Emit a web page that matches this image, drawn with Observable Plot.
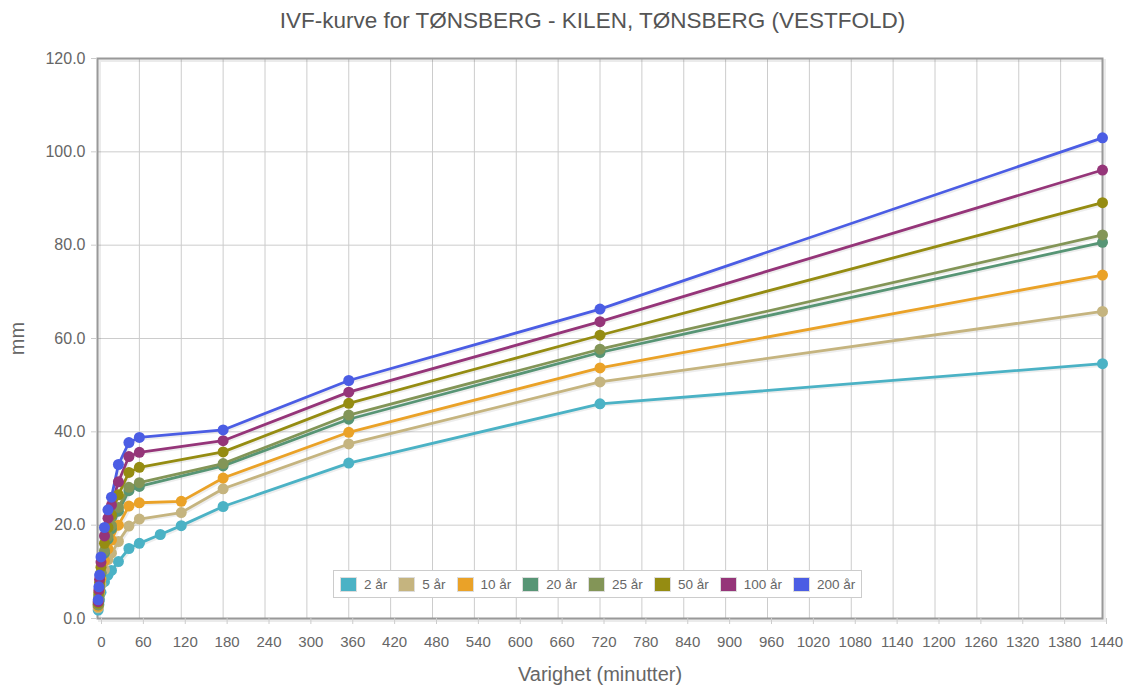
<!DOCTYPE html>
<html><head><meta charset="utf-8">
<script src="https://cdn.jsdelivr.net/npm/d3@7"></script>
<script src="https://cdn.jsdelivr.net/npm/@observablehq/plot@0.6"></script>
<style>
body{margin:0;background:#fff;font-family:"Liberation Sans",Arial,sans-serif;}
#wrap{position:relative;width:1142px;height:686px;overflow:hidden;}
#title{position:absolute;left:90px;top:8px;width:1005px;text-align:center;font-size:22.5px;color:#555;}
#chart{position:absolute;left:0;top:40px;}
#legend{position:absolute;left:333px;top:570px;height:28px;background:#fff;border:1px solid #ccc;display:flex;align-items:center;padding:0 6px 0 7px;box-sizing:border-box;font-size:13.5px;color:#666;}
#legend .it{display:flex;align-items:center;margin-right:12px;}
#legend .it:last-child{margin-right:0;}
#legend .sw{width:15px;height:13px;margin-right:8px;box-shadow:0 0 0 1px #ddd;}
</style></head><body>
<div id="wrap">
<div id="title">IVF-kurve for TØNSBERG - KILEN, TØNSBERG (VESTFOLD)</div>
<div id="chart"></div>
<div id="legend"></div>
</div>
<script>
const durations = [1, 2, 3, 5, 10, 15, 20, 30, 45, 60, 90, 120, 180, 360, 720, 1440];
const series = ["2 år", "5 år", "10 år", "20 år", "25 år", "50 år", "100 år", "200 år"];
const colors = ["#4bb2c5", "#c5b47f", "#EAA228", "#579575", "#839557", "#958c12", "#953579", "#4b5de4"];
const v2   = [1.8, 3.0, 4.0, 5.6, 7.9, 9.3, 10.3, 12.2, 15.0, 16.1, 18.0, 19.9, 24.0, 33.3, 46.0, 54.6];
const v5   = [2.3, 3.8, 5.2, 7.3, 10.5, 12.6, 14.0, 16.5, 19.8, 21.3, null, 22.7, 27.8, 37.4, 50.7, 65.8];
const v10  = [2.6, 4.4, 6.0, 8.5, 12.4, 14.9, 16.8, 20.0, 24.1, 24.8, null, 25.1, 30.1, 39.9, 53.7, 73.6];
const v20  = [2.9, 4.9, 6.7, 9.6, 14.0, 17.0, 19.2, 23.0, 27.4, 28.3, null, null, 32.7, 42.7, 57.0, 80.6];
const v25  = [3.0, 5.1, 6.9, 9.9, 14.5, 17.6, 19.9, 23.8, 28.1, 29.1, null, null, 33.2, 43.6, 57.7, 82.2];
const v50  = [3.3, 5.6, 7.7, 11.0, 16.1, 19.5, 22.2, 26.5, 31.3, 32.4, null, null, 35.7, 46.1, 60.7, 89.1];
const v100 = [3.6, 6.1, 8.4, 12.1, 17.7, 21.5, 24.3, 29.3, 34.7, 35.6, null, null, 38.1, 48.5, 63.6, 96.1];
const v200 = [4.0, 6.8, 9.3, 13.2, 19.5, 23.3, 26.0, 33.0, 37.7, 38.8, null, null, 40.4, 51.0, 66.3, 103.0];
const xTicks = d3.range(0, 1441, 60);
const yTicks = [0, 20, 40, 60, 80, 100, 120];

const values = [v2, v5, v10, v20, v25, v50, v100, v200];
const rows = [];
series.forEach((s, i) => values[i].forEach((v, j) => { if (v != null) rows.push({s, d: durations[j], v}); }));

const chart = Plot.plot({
  width: 1142, height: 646,
  marginTop: 18, marginLeft: 97, marginRight: 40, marginBottom: 68,
  style: {fontFamily: "'Liberation Sans', Arial, sans-serif", color: "#666", background: "transparent"},
  x: {domain: [0, 1440]},
  y: {domain: [0, 120]},
  color: {domain: series, range: colors},
  marks: [
    Plot.gridX(xTicks, {stroke: "#ccc", strokeOpacity: 1}),
    Plot.gridY(yTicks, {stroke: "#ccc", strokeOpacity: 1}),
    Plot.frame({stroke: "#000", strokeOpacity: 0.08, strokeWidth: 3, dx: 2, dy: 2}),
    Plot.frame({stroke: "#999", strokeWidth: 2}),
    Plot.axisX(xTicks, {tickSize: 6, stroke: "#ccc", tickPadding: 12, fontSize: 15, dx: 4, tickFormat: d => String(d), label: "Varighet (minutter)", labelAnchor: "center", labelOffset: 62, labelArrow: "none"}),
    Plot.axisY(yTicks, {tickSize: 6, stroke: "#ccc", tickPadding: 6, fontSize: 16, tickFormat: d => d.toFixed(1), label: "mm", labelAnchor: "center", labelOffset: 88, labelArrow: "none"}),
    Plot.line(rows, {x: "d", y: "v", z: "s", stroke: "#000", strokeOpacity: 0.07, strokeWidth: 3, dx: 1.5, dy: 1.5}),
    Plot.line(rows, {x: "d", y: "v", z: "s", stroke: "s", strokeWidth: 2.8}),
    Plot.dot(rows, {x: "d", y: "v", fill: "s", r: 5.5})
  ]
});
chart.querySelectorAll("g[aria-label='x-axis label'] text, g[aria-label='y-axis label'] text").forEach(t => t.style.fontSize = "20px");
document.getElementById("chart").appendChild(chart);

const leg = document.getElementById("legend");
series.forEach((s, i) => {
  const it = document.createElement("div"); it.className = "it";
  const sw = document.createElement("div"); sw.className = "sw"; sw.style.background = colors[i];
  const tx = document.createElement("span"); tx.textContent = s;
  it.appendChild(sw); it.appendChild(tx); leg.appendChild(it);
});
</script>
</body></html>
